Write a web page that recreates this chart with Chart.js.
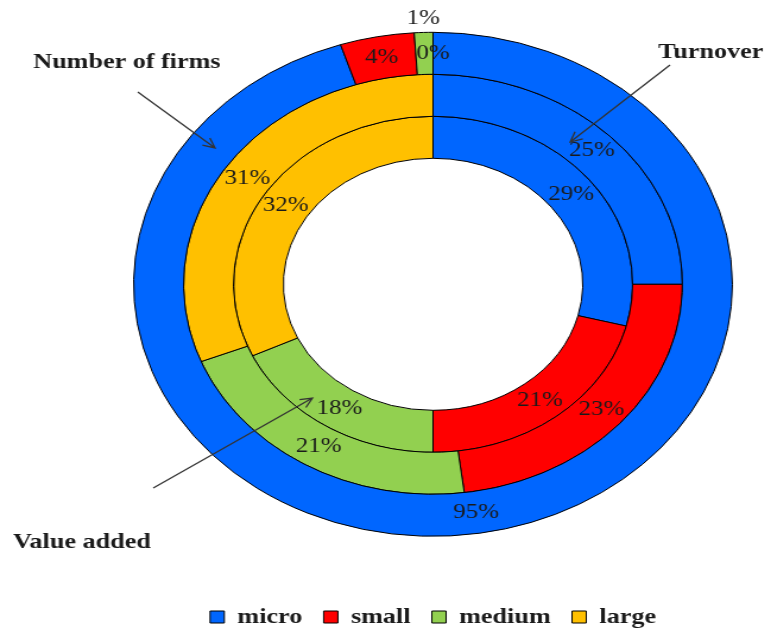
<!DOCTYPE html>
<html>
<head>
<meta charset="utf-8">
<script src="https://cdn.jsdelivr.net/npm/chart.js@4.4.1/dist/chart.umd.min.js"></script>
<style>
  html, body { margin: 0; padding: 0; background: #fff; }
</style>
</head>
<body>
<!-- chart is drawn narrower and stretched to the window, like the original figure -->
<canvas id="chart" width="649" height="630" style="display:block;width:771px;height:630px"></canvas>
<script>
// Data
const categories = ['micro', 'small', 'medium', 'large'];
const numberOfFirms = [95, 4, 1, 0];
const turnover = [25, 23, 21, 31];
const valueAdded = [29, 21, 18, 32];
const sizeColors = ['#0066FF', '#FF0000', '#92D050', '#FFC000'];

const SERIF = '"Liberation Serif", "DejaVu Serif", serif';

// callout texts with arrows (canvas coords, before the horizontal stretch)
const callouts = [
    { text: 'Number of firms', tx: 28, ty: 62, from: [116, 92], to: [181, 148] },
    { text: 'Turnover', tx: 554, ty: 52, from: [564, 65], to: [480, 142] },
    { text: 'Value added', tx: 11, ty: 542, from: [129, 488], to: [263, 398] }
];

// percentage labels on each slice
const pctLabels = {
    id: 'pctLabels',
    afterDatasetsDraw(chart) {
        const ctx = chart.ctx;
        ctx.save();
        ctx.font = '21px ' + SERIF;
        ctx.fillStyle = '#1a1a1a';
        ctx.textAlign = 'center';
        ctx.textBaseline = 'middle';
        chart.data.datasets.forEach((ds, i) => {
            const meta = chart.getDatasetMeta(i);
            meta.data.forEach((arc, j) => {
                const v = ds.data[j];
                let p;
                if (v > 0 && v < 2) {
                    // thin slice: label sits just outside the ring
                    const a = (arc.startAngle + arc.endAngle) / 2;
                    const r = arc.outerRadius + 14;
                    p = { x: arc.x + Math.cos(a) * r, y: arc.y + Math.sin(a) * r };
                } else {
                    p = arc.tooltipPosition();
                }
                ctx.fillText(v + '%', p.x, p.y);
            });
        });
        ctx.restore();
    }
};

const calloutPlugin = {
    id: 'callouts',
    afterDraw(chart) {
        const ctx = chart.ctx;
        ctx.save();
        callouts.forEach(c => {
            ctx.font = 'bold 22px ' + SERIF;
            ctx.fillStyle = '#1a1a1a';
            ctx.textAlign = 'left';
            ctx.textBaseline = 'middle';
            ctx.fillText(c.text, c.tx, c.ty);

            // arrow line + open head
            const [x1, y1] = c.from, [x2, y2] = c.to;
            const ang = Math.atan2(y2 - y1, x2 - x1);
            ctx.strokeStyle = '#333';
            ctx.lineWidth = 1.3;
            ctx.beginPath();
            ctx.moveTo(x1, y1);
            ctx.lineTo(x2, y2);
            ctx.moveTo(x2 - 11 * Math.cos(ang - 0.45), y2 - 11 * Math.sin(ang - 0.45));
            ctx.lineTo(x2, y2);
            ctx.lineTo(x2 - 11 * Math.cos(ang + 0.45), y2 - 11 * Math.sin(ang + 0.45));
            ctx.stroke();
        });
        ctx.restore();
    }
};

const ring = (label, data) => ({
    label: label,
    data: data,
    backgroundColor: sizeColors,
    borderColor: '#000',
    borderWidth: 1,
    hoverBorderWidth: 1
});

new Chart(document.getElementById('chart'), {
    type: 'doughnut',
    data: {
        labels: categories,
        datasets: [
            ring('Number of firms', numberOfFirms),
            ring('Turnover', turnover),
            ring('Value added', valueAdded)
        ]
    },
    options: {
        responsive: false,
        animation: false,
        cutout: '50%',
        layout: { padding: { top: 30, left: 112, right: 32, bottom: -8 } },
        plugins: {
            legend: {
                position: 'bottom',
                title: { display: true, text: '', padding: { top: 35, bottom: 0 } },
                labels: {
                    boxWidth: 12,
                    boxHeight: 12,
                    padding: 18,
                    color: '#1a1a1a',
                    font: { family: SERIF, size: 22, weight: 'bold' }
                }
            },
            tooltip: { enabled: false }
        }
    },
    plugins: [pctLabels, calloutPlugin]
});
</script>
</body>
</html>
